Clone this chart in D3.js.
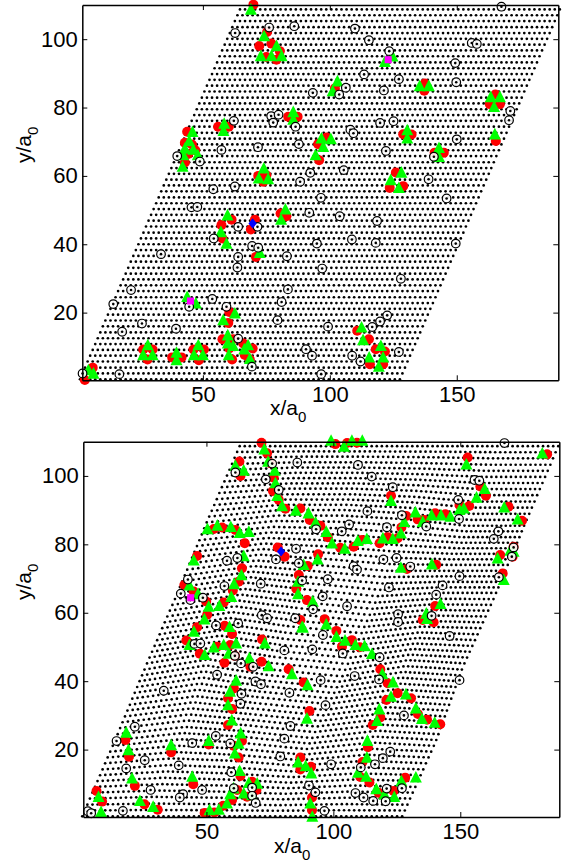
<!DOCTYPE html>
<html>
<head>
<meta charset="utf-8">
<script src="https://cdn.jsdelivr.net/npm/d3@7"></script>
<style>
   html, body { margin: 0; padding: 0; background: #fff; }
   svg { display: block; }
   text { font-family: "Liberation Sans", Arial, sans-serif; fill: #000; }
</style>
</head>
<body>
<svg id="chart" width="572" height="867"></svg>
<script>
   // tick labels
   var xTicks = [50, 100, 150];
   var yTicks = [20, 40, 60, 80, 100];

   // lattice rows: height and left end of each row.
   // sites along a row are not read one by one, they follow siteStep
   var rowY = [0.5,2.2,3.9,5.7,7.4,9.1,10.8,12.5,14.2,16,17.7,19.4,21.1,22.8,24.5,26.3,28,29.7,31.4,33.1,34.9,36.6,38.3,40,41.7,43.4,45.2,46.9,48.6,50.3,52,53.7,55.5,57.2,58.9,60.6,62.3,64,65.8,67.5,69.2,70.9,72.6,74.4,76.1,77.8,79.5,81.2,82.9,84.7,86.4,88.1,89.8,91.5,93.2,95,96.7,98.4,100.1,101.8,103.5,105.3,107,108.7];
   var rowStart = [1.6,2.6,3.6,4.6,5.6,6.6,7.6,8.6,9.6,10.6,11.6,12.6,13.6,14.6,15.6,16.6,17.6,18.6,19.6,20.6,21.6,22.6,23.6,24.6,25.6,26.6,27.6,28.6,29.6,30.6,31.6,32.6,33.6,34.6,35.6,36.6,37.6,38.6,39.6,40.6,41.6,42.6,43.6,44.6,45.6,46.6,47.6,48.6,49.6,50.6,51.6,52.6,53.6,54.6,55.6,56.6,57.6,58.6,59.6,60.6,61.6,62.6,63.6,64.6];
   var siteStep = 2;
   var siteCount = 64;

   // rough shift of the lower panel's lattice, estimated by eye on a coarse
   // grid of sites (rows bottom to top, columns left to right)
   var warpDx = [
      [-0.5, -0.5, -0.5, -0.5, -0.5, -0.5],
      [-0.5, 1, -1, 0, 1, 0],
      [-1, -1, -2, 1, 1, -2],
      [-1, 1, -1, 2, 0, -1.5],
      [-1.5, 1, 2, 1, 0, -2.5],
      [-1.5, -1.5, -1.5, -1.5, -2, -2]
   ];
   var warpDy = [
      [0, 0, 0, 0, 0, 0],
      [0, 2, 1, -1, 1, 0],
      [0, 3, 0, -2, 1, 0],
      [0, 3, 1, -1, 0, 0],
      [0, 2, 2, 1, -1, -1],
      [0, 0, 0, 0, 0, 0]
   ];

   // upper panel
   var topRed = [[69.9,110.1],[75.3,102.1],[72.2,98],[77,98.7],[80.3,96.5],[75,94.8],[79,94],[43.8,72.9],[42.9,69.7],[45.7,69.2],[47,67.5],[44.2,66.4],[42.9,63.9],[56,74.4],[60.2,74.4],[83.6,77.3],[87.3,77.3],[71.8,60],[73.8,58.3],[75,60.2],[95.4,69.3],[98.7,71.2],[95.8,64.6],[102,85.6],[137.4,87],[137.2,84.9],[165.2,83.8],[163,81],[167,81],[128.9,72.2],[132.2,72.1],[165.4,70.2],[141.3,66.8],[144.9,66.8],[126,61],[123.6,56.5],[128.9,57],[70.5,47.2],[68.9,44.3],[57.3,45.6],[61.3,47.2],[57.7,41.7],[70.9,36.3],[80.6,49],[82.9,48.2],[60.4,20.2],[60,17],[57.7,12.2],[61.9,12.2],[60.4,9.5],[61.5,6.3],[65.9,11],[69.6,9.5],[66.5,7.6],[68.5,6.3],[26.5,9.2],[30.2,9.2],[28.2,6.3],[37.9,6.9],[41.6,6.9],[46.3,9.2],[50.4,9.2],[48.4,6.1],[6.6,3.9],[3.5,0.3],[110.8,14.7],[115.4,12.2],[118.1,9.3],[121.7,8.6],[115.8,4.9],[121,4.9]];
   var topGreen = [[68.9,108.7],[74.1,100.9],[79,98],[72.8,95.1],[77,95.1],[81,95.1],[45.9,72.9],[44.6,70.2],[42.9,68],[46.2,67.7],[48,66.1],[42.3,66.1],[42,62.7],[58.4,75.3],[58.1,73.2],[85.6,78.7],[85.6,76.5],[74,62.2],[72,59.3],[75.7,59.1],[96.7,71],[97.4,68.5],[94.4,66.1],[103,87.7],[101.1,84.8],[124.7,95],[121.7,93.4],[135.4,86.3],[139,86.3],[163.4,83.1],[167,83.1],[164.7,80.2],[165,72.2],[130.5,73.4],[130.5,71],[143,68.2],[143,65.6],[100.4,70.8],[128.2,61],[124,58.8],[127.2,56.5],[59.7,48.5],[57.1,43.6],[59.3,40.2],[72.4,37.5],[82.5,50.2],[80.8,47.2],[43.8,24.6],[47.2,22.7],[62.6,19.8],[58,17.8],[59.8,13.4],[59.8,11],[61.9,10.3],[60.2,7.6],[67.8,10.5],[66.3,9.3],[68.5,6.5],[28.3,10.5],[26.5,7.6],[30.2,7.6],[39.6,8.3],[39.6,6.1],[48.2,10.5],[46.5,7.6],[50,7.6],[4.9,3.2],[6.9,2.2],[112.5,15.7],[113.1,12],[120.1,10.3],[115.5,6.9],[121,6.9],[119.3,4.2]];
   var topOpen = [[76.1,103.4],[86,103.8],[62.7,101.8],[93.3,84.3],[76.9,77.5],[79.8,77.9],[77.7,75.6],[86.5,74.4],[62.2,76.1],[87.8,69.3],[71.7,68.4],[57.3,67.6],[39.9,65.8],[48.8,64.2],[92.3,60.9],[88.3,58.3],[54.1,56.1],[62.6,56.9],[96.5,53.6],[167.6,109.5],[109.9,103.1],[115.4,99.7],[155.9,98.9],[157.9,98.6],[123.4,96.5],[149.4,93],[113.5,89.7],[127.2,88.3],[149.8,87.4],[106.3,85.8],[103.7,83.8],[121.3,85],[171.1,79],[170.6,76.3],[119.8,75.5],[125.1,76],[108.1,73.5],[109.3,72.5],[150,70.7],[141,65.6],[122.1,67.3],[105.5,61.7],[138.9,59],[146,53.4],[45.5,50.8],[47.8,50.9],[91.9,49.2],[63.9,45.1],[71.5,45.1],[54.3,41.7],[69.4,39.5],[71.8,39],[94.9,40.2],[33.5,37.1],[63.9,36.3],[63.6,33.2],[83.1,36.5],[97,32.9],[83.5,26.8],[21.7,26.6],[53.7,24],[81,23.1],[14.7,22.5],[59.3,21.7],[44.6,21.7],[79.4,17.8],[26,16.8],[39.4,15.3],[18.2,14.4],[99.3,15.9],[90.6,9.3],[93,7.4],[63.9,12.4],[69.3,4.2],[96.6,2],[17.1,2],[2.6,2.2],[103.9,48.2],[118.6,46.8],[108.7,41.4],[118.1,40.4],[149.6,40.2],[128,29.9],[122.6,19.2],[119.8,17.4],[116.7,15.8],[108.8,7.4],[112.1,5.7],[127.2,8.5]];
   var topSquare = [[123,94],[45.1,23.4]];
   var topDiamond = [[69.6,46.1]];

   // lower panel
   var lowRed = [[71.7,109.7],[73.9,106.6],[63,104.2],[63.4,100],[75.2,103.7],[76.5,99.5],[76.2,95.6],[78.5,93],[81.1,90.4],[87,90.5],[90.7,87.1],[94.9,85.4],[97.8,82.1],[52.9,84.5],[56.2,84.9],[61.4,84.2],[65.1,80.3],[46.3,76.6],[78.1,79.1],[80.8,76.4],[64,73],[62.7,69.1],[60.4,66.5],[56.8,63],[41.3,68.1],[45,66.2],[49.9,63.3],[50.3,59.4],[46.3,55.8],[86.4,71],[85.4,67],[89.6,63.7],[94,77.1],[89.9,73.7],[87,57.9],[96.6,58.1],[57.2,56.2],[60.1,53.8],[71.9,52.2],[42.1,51.9],[54.2,50.1],[59.4,50.6],[100.8,109.3],[105.4,109.6],[109.3,109.7],[184.2,106.3],[152.9,105.4],[157.9,96.9],[160.1,94.2],[169,91],[174.3,86.9],[153.5,91.2],[149.7,91.5],[144.1,88.8],[140.1,89.1],[133.2,87.3],[135.8,87.1],[128.7,88.3],[126.8,84.9],[125.3,81.8],[121.4,82.1],[118.2,80.3],[122.7,94.2],[111.3,81.3],[108,79.3],[102.7,79],[140.5,74],[165.7,76.9],[170.6,76.4],[171,79.3],[129,72.8],[166.7,71.5],[140.1,62],[135.2,57.9],[139.5,57.2],[101.2,54.7],[107.3,52],[103.4,50.1],[47.4,48],[57.1,45.4],[61.2,47.4],[67.3,44.2],[71.7,45.7],[82.4,43.5],[88.3,39.6],[60.8,37.9],[58.5,35],[60.1,31.9],[58.5,27.2],[90.6,31.3],[64,22.5],[60.8,21.1],[62.7,17.7],[50.9,21.5],[36.1,19.2],[18.1,22.8],[19.5,17.9],[87,17.7],[91.2,15],[87,14.2],[63.4,12.3],[21.8,9.4],[44.8,9.9],[68,10.6],[6.7,7.9],[8.9,4.8],[25.6,4],[30.8,2.4],[60.1,5.3],[56.6,3.6],[49.3,1.5],[53.1,1.6],[62.1,8.2],[66,6.2],[69.7,8.2],[91.6,6],[91.6,2.3],[110.4,49.9],[118.5,43.5],[121.4,39.4],[125.3,36.5],[120.9,34.5],[130.6,35],[133.3,30.4],[136.9,28.7],[142.1,27.4],[118.5,29.4],[115.5,27.2],[113.6,20.7],[111.5,16.4],[110.6,12],[114.2,10.4],[117.8,7.4],[123.7,7.9],[128.3,11.8]];
   var lowGreen = [[72.8,107.8],[74.3,104.2],[61.4,103],[64.7,101.6],[76.9,101.6],[77.2,97.9],[77.9,94.2],[79.8,91.2],[85.2,89.9],[90.2,89.1],[93,86.4],[97.2,83.7],[50.4,84.5],[54.3,85.5],[59.6,85.1],[63.1,83.4],[66.7,83.7],[45,75.3],[64.7,76.6],[63.8,71],[60.9,68.4],[59.8,64.7],[55.1,62],[50.9,61.8],[49.2,58.1],[45.1,54.5],[43.3,68],[46.7,65.5],[88.3,74],[93.8,75.6],[86.1,69.1],[86.1,65.5],[91.9,63.3],[87.7,55.9],[97.2,56.6],[59.1,55.9],[73,51.1],[43.3,50.6],[52.9,49.9],[56.8,50.6],[61.7,51.1],[99.1,110.3],[104.2,108.6],[107.3,110.3],[111.4,110.3],[182.3,106.6],[152.4,103.4],[159.6,96.2],[156.4,93.7],[167.3,90.8],[172.6,87.3],[151.4,90.5],[149.7,90.1],[146.1,88.1],[142.4,88.5],[138.7,88.5],[132.3,89.4],[135.2,86.6],[122.7,92.7],[127.9,86.6],[126.6,83.2],[123.4,81.6],[119.5,81.8],[113.2,81.6],[109.6,81],[104.5,78.8],[99.5,80.3],[164.7,75.9],[171,77.9],[169.7,78.2],[138.8,74.2],[126.6,73.2],[167.1,69.6],[142.2,62.6],[136.6,59.8],[136.9,58.2],[88,55.7],[101.2,53],[104.6,51.9],[108.7,50.6],[112.3,50.3],[49.3,47.7],[58.8,48.1],[66.9,46.7],[74.5,44.4],[83.7,42.1],[89.8,38.9],[61.7,40.2],[59.3,37],[58.5,33],[60,28.6],[89.6,29.1],[63.5,24.8],[62.7,21.8],[61.2,18.9],[50.9,22.6],[36.1,21.3],[18.4,25],[19.3,19.9],[86.1,16.3],[89.1,15.2],[91.3,13.1],[63.1,13.8],[20.7,11.6],[44.4,12.1],[66.7,10.3],[70,10.1],[60.7,8.7],[64.7,7.2],[7.5,6.2],[8.5,1.8],[23.8,5],[29,3.3],[59.4,7],[58.1,4.3],[54.9,2.5],[51.2,2.3],[90.9,4.3],[91.7,0.4],[68,6.7],[115.2,48],[119.3,42.1],[123.5,39.7],[128.6,36.2],[122.7,35.5],[132.5,32.1],[118.1,31.8],[117.2,28.4],[134.9,29],[139.9,27.9],[113.4,22.6],[113.2,17.7],[109.7,13.3],[112.9,12.1],[116.9,8.5],[120.1,6.9],[124,6.2],[126.8,10.8],[132.5,11.9]];
   var lowOpen = [[61.4,101],[85.8,103.9],[75.9,103.6],[73.4,99],[78.5,95.9],[93.2,84.4],[85.3,78.7],[58.1,75.2],[62.2,76],[77.4,75.6],[86.4,74.5],[97.8,69.8],[87.7,69.4],[71.4,68.5],[57.1,67.8],[42.7,69.7],[39.9,65.6],[43.7,63.7],[48.6,64.4],[95.8,64.8],[92,61],[71.8,59.3],[73.9,58.4],[85,58.4],[62.5,56.9],[53.8,56.3],[95.9,53.5],[45.3,50.9],[47.6,51],[167.4,109.6],[109.7,103.2],[115.1,99.8],[155.6,98.8],[157.5,98.6],[123.4,96.7],[149.2,93],[113.4,89.7],[127,88.5],[149.5,87.4],[106.2,85.8],[103.3,83.8],[121.1,85],[136.6,85.2],[165,83.8],[163.2,81.6],[171,79.1],[170.3,76.4],[119.7,75.6],[124.9,76],[108,73.6],[109.3,72.6],[130.3,73.5],[149.7,70.7],[165.2,70.4],[121.9,67.4],[143,68],[140.5,65.3],[105.4,61.9],[125.5,59.6],[125.5,57.3],[138.7,59.1],[145.8,53.2],[80.7,49],[91.7,49.3],[61.2,47.4],[63.6,45.2],[68.4,44.2],[54.2,41.9],[69.3,39.9],[71.5,39.1],[95,40.3],[33.2,37.2],[63.8,36.3],[63.4,33.4],[82.7,36.6],[96.9,33],[83.1,26.9],[21.8,26.7],[53.7,24],[80.7,23.2],[14.6,22.5],[59.4,21.8],[44.4,21.9],[79.1,18],[25.7,16.9],[39.1,15.4],[18.4,14.5],[99.1,15.7],[59.8,13.4],[90.4,9.5],[92.9,7.5],[28,8.2],[48.3,8.2],[40.8,7],[39.5,6],[60.8,8.7],[68,8.9],[68,6.5],[69.4,4.4],[96.5,2.1],[17.1,2.1],[3.3,2],[4.6,1.4],[118.2,47],[103.7,48.1],[108.4,41.5],[118,40.5],[149.7,40.3],[127.8,30],[122.4,19.4],[119.5,17.5],[116.4,15.7],[110.8,14.8],[121,8.6],[127,8.7],[108.7,7.3],[111.9,6],[115.7,5],[120.6,4.9]];
   var lowSquare = [[43.8,64.4]];
   var lowDiamond = [[79.4,77.9]];

   var svg = d3.select("#chart");

   // matlab's '^' marker is a bit taller than d3's equilateral triangle
   var tallTriangle = {
      draw: function(context) {
         context.moveTo(0, -6.4);
         context.lineTo(6, 5.2);
         context.lineTo(-6, 5.2);
         context.closePath();
      }
   };

   function latticeSites(warped) {
      var sites = [];
      rowY.forEach(function(y, i) {
         d3.range(siteCount).forEach(function(j) {
            var dx = 0, dy = 0;
            if (warped) {
               dx = warpAt(warpDx, i / (rowY.length - 1), j / (siteCount - 1));
               dy = warpAt(warpDy, i / (rowY.length - 1), j / (siteCount - 1));
            }
            sites.push([rowStart[i] + j * siteStep + dx, y + dy]);
         });
      });
      return sites;
   }

   function warpAt(table, v, u) {
      var n = table.length - 1;
      var r = Math.min(Math.floor(v * n), n - 1), c = Math.min(Math.floor(u * n), n - 1);
      var fr = v * n - r, fc = u * n - c;
      var low = table[r][c] + (table[r][c + 1] - table[r][c]) * fc;
      var high = table[r + 1][c] + (table[r + 1][c + 1] - table[r + 1][c]) * fc;
      return low + (high - low) * fr;
   }

   function addLabel(g, x, y, rotate, main) {
      var label = g.append("text")
         .attr("transform", "translate(" + x + "," + y + ")" + (rotate ? " rotate(-90)" : ""))
         .style("font-size", "21px")
         .text(main);
      label.append("tspan")
         .attr("dy", 7)
         .style("font-size", "15px")
         .text("0");
   }

   function drawPanel(opts) {
      var x = d3.scaleLinear().domain(opts.xDomain).range([opts.left, opts.right]);
      var y = d3.scaleLinear().domain(opts.yDomain).range([opts.bottom, opts.top]);
      var g = svg.append("g");

      g.append("g").selectAll("circle")
         .data(latticeSites(opts.warped))
         .enter().append("circle")
         .attr("cx", function(d) { return x(d[0]); })
         .attr("cy", function(d) { return y(d[1]); })
         .attr("r", 1.35)
         .attr("fill", "black");

      g.append("g").selectAll("circle")
         .data(opts.red)
         .enter().append("circle")
         .attr("cx", function(d) { return x(d[0]); })
         .attr("cy", function(d) { return y(d[1]); })
         .attr("r", 5)
         .attr("fill", "#ff0000");

      g.append("g").selectAll("path")
         .data(opts.green)
         .enter().append("path")
         .attr("d", d3.symbol().type(tallTriangle))
         .attr("transform", function(d) { return "translate(" + x(d[0]) + "," + y(d[1]) + ")"; })
         .attr("fill", "#00ff00");

      var rings = g.append("g").selectAll("g")
         .data(opts.open)
         .enter().append("g")
         .attr("transform", function(d) { return "translate(" + x(d[0]) + "," + y(d[1]) + ")"; });
      rings.append("circle")
         .attr("r", 4.3)
         .attr("fill", "white")
         .attr("fill-opacity", 0.9)
         .attr("stroke", "black")
         .attr("stroke-width", 1.2);
      rings.append("circle")
         .attr("r", 1.3)
         .attr("fill", "black");

      g.append("g").selectAll("path")
         .data(opts.square)
         .enter().append("path")
         .attr("d", d3.symbol().type(d3.symbolSquare).size(50))
         .attr("transform", function(d) { return "translate(" + x(d[0]) + "," + y(d[1]) + ")"; })
         .attr("fill", "#ff00ff");

      g.append("g").selectAll("path")
         .data(opts.diamond)
         .enter().append("path")
         .attr("d", d3.symbol().type(d3.symbolSquare).size(52))
         .attr("transform", function(d) { return "translate(" + x(d[0]) + "," + y(d[1]) + ") scale(0.82,1) rotate(45)"; })
         .attr("fill", "#0000ff");

      // box with inward ticks on all four sides
      var axes = [
         { a: d3.axisBottom(x).tickValues(xTicks).tickPadding(6), at: [0, opts.bottom], labels: true },
         { a: d3.axisTop(x).tickValues(xTicks), at: [0, opts.top], labels: false },
         { a: d3.axisLeft(y).tickValues(yTicks).tickPadding(4.5), at: [opts.left, 0], labels: true },
         { a: d3.axisRight(y).tickValues(yTicks), at: [opts.right, 0], labels: false }
      ];
      axes.forEach(function(ax) {
         var axisG = g.append("g")
            .attr("transform", "translate(" + ax.at[0] + "," + ax.at[1] + ")")
            .call(ax.a.tickSizeInner(-5).tickSizeOuter(0));
         axisG.select(".domain").attr("stroke-width", 1.5).attr("stroke", "black");
         axisG.selectAll(".tick line").attr("stroke", "black");
         axisG.selectAll(".tick text")
            .style("font-size", "22px")
            .style("font-family", '"Liberation Sans", Arial, sans-serif')
            .attr("fill", "black");
         if (!ax.labels) axisG.selectAll(".tick text").remove();
      });

      addLabel(g, opts.xLabelAt[0], opts.xLabelAt[1], false, "x/a");
      addLabel(g, opts.yLabelAt[0], opts.yLabelAt[1], true, "y/a");
   }

   drawPanel({
      left: 82.3, right: 558.3, top: 5, bottom: 380.3,
      xDomain: [2.5, 190], yDomain: [0.2, 110],
      warped: false,
      red: topRed, green: topGreen, open: topOpen, square: topSquare, diamond: topDiamond,
      xLabelAt: [270, 415], yLabelAt: [31, 163]
   });

   drawPanel({
      left: 83.3, right: 559.3, top: 441.7, bottom: 817,
      xDomain: [1.5, 189], yDomain: [0.3, 110],
      warped: true,
      red: lowRed, green: lowGreen, open: lowOpen, square: lowSquare, diamond: lowDiamond,
      xLabelAt: [274, 853], yLabelAt: [31, 600]
   });
</script>
</body>
</html>
